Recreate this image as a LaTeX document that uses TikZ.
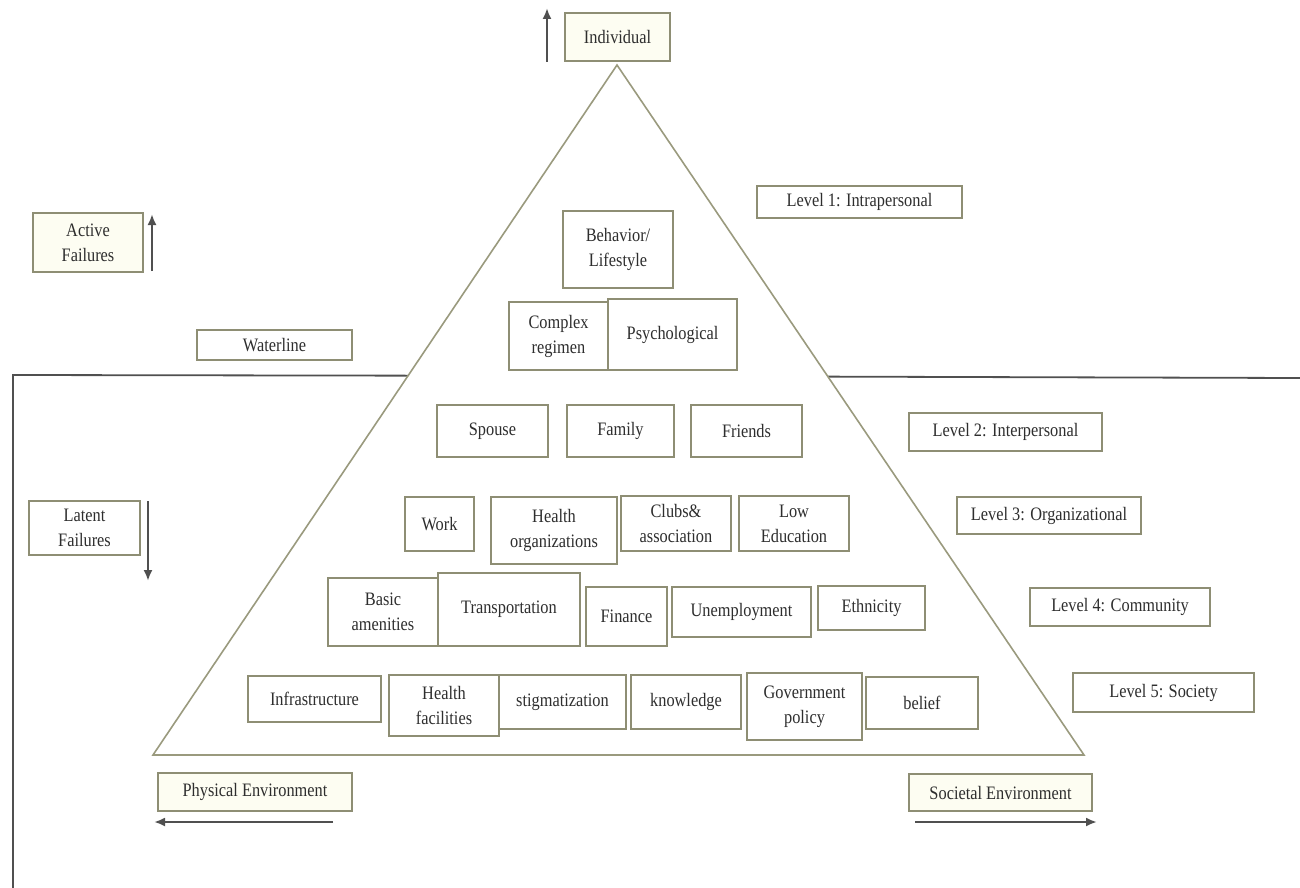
\documentclass[tikz,border=0pt]{standalone}
\usepackage{fontspec}
\setmainfont[FakeStretch=0.86]{Liberation Serif}
\usetikzlibrary{arrows.meta}
\definecolor{boxc}{HTML}{8E8E74}
\definecolor{tric}{HTML}{9A9A7E}
\definecolor{txt}{HTML}{2E2E2E}
\definecolor{linec}{HTML}{505050}
\definecolor{cream}{HTML}{FDFDF2}
\newcommand{\myfs}{\fontsize{19}{25}\selectfont}
\newcommand{\mybox}[7][]{%
  \node[bx,#1,minimum width={#5-#3},minimum height={#6-#4}] (#2) at ({(#3+#5)/2},{(#4+#6)/2}) {#7};}
\tikzset{
  bx/.style={draw=boxc,line width=1.4pt,fill=white,inner sep=0pt,align=center,text=txt,font=\myfs},
  crm/.style={fill=cream},
  arr/.style={draw=linec,line width=2.4pt,-{Latex[length=11pt,width=9pt]}},
  water/.style={draw=linec,line width=1.8pt},
  tri/.style={draw=tric,line width=1.6pt,fill=white}
}
\begin{document}
\begin{tikzpicture}[x=1pt,y=-1pt]
\useasboundingbox (0,0) rectangle (1300,888);
% waterline frame
\coordinate (wl1) at (13,888);
\coordinate (wl2) at (13,375);
\coordinate (wl3) at (620,376);
\coordinate (wr1) at (620,376);
\coordinate (wr2) at (1300,378);
\draw[water] (wl1) -- (wl2) -- (wl3);
\draw[water] (wr1) -- (wr2);
% pyramid
\coordinate (apex) at (617,65);
\coordinate (bl) at (153,755);
\coordinate (br) at (1084,755);
\draw[tri] (apex) -- (bl) -- (br) -- cycle;
% top / side labels
\mybox[crm]{indiv}{565}{13}{670}{61}{Individual}
\mybox[crm]{active}{33}{213}{143}{272}{Active\\Failures}
\mybox{waterline}{197}{330}{352}{360}{Waterline}
\mybox{latent}{29}{501}{140}{555}{Latent\\Failures}
\mybox[crm]{phys}{158}{773}{352}{811}{Physical Environment}
\mybox[crm]{soc}{909}{774}{1092}{811}{Societal Environment}
\mybox{lv1}{757}{186}{962}{218}{Level 1: Intrapersonal}
\mybox{lv2}{909}{413}{1102}{451}{Level 2: Interpersonal}
\mybox{lv3}{957}{497}{1141}{534}{Level 3: Organizational}
\mybox{lv4}{1030}{588}{1210}{626}{Level 4: Community}
\mybox{lv5}{1073}{673}{1254}{712}{Level 5: Society}
% arrows
\coordinate (ia1) at (547,62); \coordinate (ia2) at (547,8);
\draw[arr] (ia1) -- (ia2);
\coordinate (aa1) at (152,271); \coordinate (aa2) at (152,214);
\draw[arr] (aa1) -- (aa2);
\coordinate (la1) at (148,501); \coordinate (la2) at (148,581);
\draw[arr] (la1) -- (la2);
\coordinate (pa1) at (333,822); \coordinate (pa2) at (154,822);
\draw[arr] (pa1) -- (pa2);
\coordinate (sa1) at (915,822); \coordinate (sa2) at (1097,822);
\draw[arr] (sa1) -- (sa2);
% level 1
\mybox{behav}{563}{211}{673}{288}{Behavior/\\Lifestyle}
\mybox{complex}{509}{302}{608}{370}{Complex\\regimen}
\mybox{psych}{608}{299}{737}{370}{Psychological}
% level 2
\mybox{spouse}{437}{405}{548}{457}{Spouse}
\mybox{family}{567}{405}{674}{457}{Family}
\mybox{friends}{691}{405}{802}{457}{Friends}
% level 3
\mybox{work}{405}{497}{474}{551}{Work}
\mybox{healthorg}{491}{497}{617}{564}{Health\\organizations}
\mybox{clubs}{621}{496}{731}{551}{Clubs\&\\association}
\mybox{lowedu}{739}{496}{849}{551}{Low\\Education}
% level 4
\mybox{basic}{328}{578}{438}{646}{Basic\\amenities}
\mybox{transp}{438}{573}{580}{646}{Transportation}
\mybox{finance}{586}{587}{667}{646}{Finance}
\mybox{unemp}{672}{587}{811}{637}{Unemployment}
\mybox{ethnic}{818}{586}{925}{630}{Ethnicity}
% level 5
\mybox{infra}{248}{676}{381}{722}{Infrastructure}
\mybox{healthfac}{389}{675}{499}{736}{Health\\facilities}
\mybox{stigma}{499}{675}{626}{729}{stigmatization}
\mybox{know}{631}{675}{741}{729}{knowledge}
\mybox{gov}{747}{673}{862}{740}{Government\\policy}
\mybox{belief}{866}{677}{978}{729}{belief}
\end{tikzpicture}
\end{document}
